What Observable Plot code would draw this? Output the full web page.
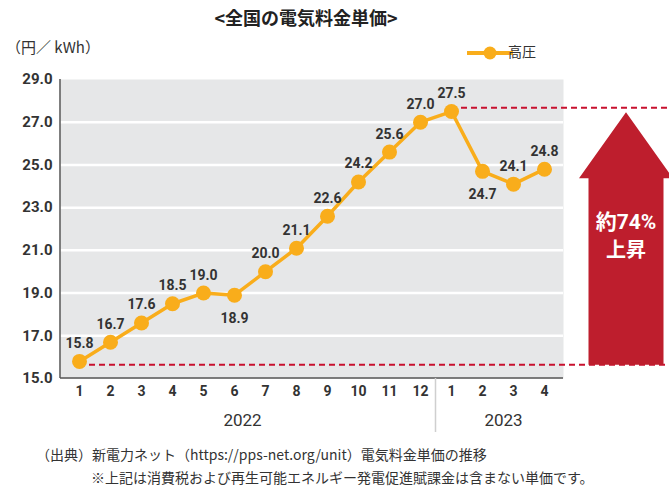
<!DOCTYPE html>
<html>
<head>
<meta charset="utf-8">
<script src="https://cdn.jsdelivr.net/npm/d3@7"></script>
<script src="https://cdn.jsdelivr.net/npm/@observablehq/plot@0.6"></script>
<style>
  html, body { margin: 0; padding: 0; background: #fff; }
  #wrap { position: relative; width: 669px; height: 489px; overflow: hidden;
          font-family: Roboto, "Noto Sans CJK JP", sans-serif; color: #333; }
  #title { position: absolute; left: 0; top: 4px; width: 612px; text-align: center;
           font-size: 18px; font-weight: bold; line-height: 26px; color: #222;
           font-family: "Noto Sans CJK JP", sans-serif; }
  #unit { position: absolute; left: 6px; top: 36px; font-size: 15px; line-height: 22px;
          font-family: "Noto Sans CJK JP", sans-serif; color: #333; }
  #chart { position: absolute; left: 0; top: 0; }
  .cap { position: absolute; font-size: 14px; line-height: 20px; color: #333;
         font-family: "Noto Sans CJK JP", sans-serif; white-space: nowrap; }
</style>
</head>
<body>
<div id="wrap">
  <div id="chart"></div>
  <div id="title"></div>
  <div id="unit"></div>
  <div class="cap" id="cap1" style="left:36px; top:444px;"></div>
  <div class="cap" id="cap2" style="left:91px; top:467px;"></div>
</div>
<script>
// ---- data ----
const months = ["1","2","3","4","5","6","7","8","9","10","11","12","1","2","3","4"];
const years  = ["2022","2022","2022","2022","2022","2022","2022","2022","2022","2022","2022","2022","2023","2023","2023","2023"];
const values = [15.8,16.7,17.6,18.5,19.0,18.9,20.0,21.1,22.6,24.2,25.6,27.0,27.5,24.7,24.1,24.8];
const labelsBelow = ["2022-6","2023-2"];
const yTicks = [15,17,19,21,23,25,27,29];
const gridValues = [17,19,21,23,25,27];
const baseLevel = 15.62;   // dashed line at start level
const peakLevel = 27.65;   // dashed line at peak level
const yearLabelA = {key: "2022-6", text: "2022"};
const yearLabelB = {key: "2023-2", text: "2023"};
const seriesName = "高圧";
const titleText = "<全国の電気料金単価>";
const unitText = "（円／ kWh）";
const arrowText = ["約74%", "上昇"];
const caption1 = "（出典）新電力ネット（https://pps-net.org/unit）電気料金単価の推移";
const caption2 = "※上記は消費税および再生可能エネルギー発電促進賦課金は含まない単価です。";

const keys = months.map((m, i) => years[i] + "-" + m);
const data = keys.map((k, i) => ({key: k, month: months[i], value: values[i]}));
const monthOf = Object.fromEntries(keys.map((k, i) => [k, months[i]]));

const orange = "#F9AD1B";
const red = "#BE1E2D";
const fontNum = "Roboto, 'Noto Sans CJK JP', sans-serif";

document.getElementById("title").textContent = titleText;
document.getElementById("unit").textContent = unitText;
document.getElementById("cap1").textContent = caption1;
document.getElementById("cap2").textContent = caption2;

const plot = Plot.plot({
  width: 669,
  height: 440,
  marginLeft: 60,
  marginRight: 106,
  marginTop: 79,
  marginBottom: 62,
  style: {fontFamily: fontNum, background: "transparent", color: "#333"},
  x: {type: "point", domain: keys, padding: 0.5, align: 0.5},
  y: {domain: [15, 29]},
  marks: [
    Plot.frame({fill: "#E6E7E8", stroke: "none"}),
    Plot.ruleY(gridValues, {stroke: "white", strokeWidth: 2.5}),
    Plot.axisY({ticks: yTicks, tickSize: 0, tickPadding: 8, tickFormat: d3.format(".1f"),
                label: null, fontSize: 15, fontWeight: "bold", fill: "#333"}),
    Plot.axisX({tickSize: 0, tickPadding: 8, tickFormat: k => monthOf[k], label: null,
                fontSize: 14, fontWeight: "bold", fill: "#333"}),
    Plot.line(data, {x: "key", y: "value", stroke: orange, strokeWidth: 3.5}),
    Plot.dot(data, {x: "key", y: "value", r: 7.5, fill: orange}),
    Plot.text(data.filter(d => !labelsBelow.includes(d.key)),
      {x: "key", y: "value", text: d => d3.format(".1f")(d.value), dy: -18,
       fontSize: 14, fontWeight: "bold", fill: "#333"}),
    Plot.text(data.filter(d => labelsBelow.includes(d.key)),
      {x: "key", y: "value", text: d => d3.format(".1f")(d.value), dy: 23,
       fontSize: 14, fontWeight: "bold", fill: "#333"}),
    Plot.text([yearLabelA], {x: "key", y: () => 15, text: "text", dx: 8, dy: 42,
       fontSize: 17, fill: "#333"}),
    Plot.text([yearLabelB], {x: "key", y: () => 15, text: "text", dx: 21, dy: 42,
       fontSize: 17, fill: "#333"})
  ]
});

document.getElementById("chart").appendChild(plot);
const svg = d3.select(plot);
const sx = plot.scale("x"), sy = plot.scale("y");
const x0 = sx.range[0], x1 = sx.range[1];
const yb = sy.range[0], yt = sy.range[1];
const W = 669;

// axis lines (left & bottom)
const axisG = svg.insert("g", "g[aria-label=line]");
axisG.append("line").attr("x1", x0).attr("x2", x0).attr("y1", yt).attr("y2", yb)
  .attr("stroke", "#555").attr("stroke-width", 1.5);
axisG.append("line").attr("x1", x0).attr("x2", x1).attr("y1", yb).attr("y2", yb)
  .attr("stroke", "#555").attr("stroke-width", 1.5);
// year separator
const sepX = (sx.apply("2022-12") + sx.apply("2023-1")) / 2;
axisG.append("line").attr("x1", sepX).attr("x2", sepX).attr("y1", yb).attr("y2", yb + 54)
  .attr("stroke", "#cfcfcf").attr("stroke-width", 1.5);
// dashed reference lines
axisG.append("line").attr("x1", sx.apply("2022-1")).attr("x2", W)
  .attr("y1", sy.apply(baseLevel)).attr("y2", sy.apply(baseLevel))
  .attr("stroke", "#C8102E").attr("stroke-width", 2).attr("stroke-dasharray", "6,4");
axisG.append("line").attr("x1", sx.apply("2023-1")).attr("x2", W)
  .attr("y1", sy.apply(peakLevel)).attr("y2", sy.apply(peakLevel))
  .attr("stroke", "#C8102E").attr("stroke-width", 2).attr("stroke-dasharray", "6,4");

// arrow
const cx = x1 + 63;
const aTop = sy.apply(peakLevel) + 4.5;
const aBot = sy.apply(baseLevel);
const headBase = aTop + 66;
const hw = 47, sw = 37.5;
svg.append("path")
  .attr("d", `M${cx},${aTop} L${cx + hw},${headBase} L${cx + sw},${headBase} L${cx + sw},${aBot} L${cx - sw},${aBot} L${cx - sw},${headBase} L${cx - hw},${headBase} Z`)
  .attr("fill", red);
const midY = (headBase + aBot) / 2;
svg.append("text").attr("x", cx).attr("y", midY - 48).attr("text-anchor", "middle")
  .attr("dominant-baseline", "middle").attr("fill", "white").attr("font-size", 21)
  .attr("font-weight", "bold").attr("font-family", fontNum).text(arrowText[0]);
svg.append("text").attr("x", cx).attr("y", midY - 20).attr("text-anchor", "middle")
  .attr("dominant-baseline", "middle").attr("fill", "white").attr("font-size", 20)
  .attr("font-weight", "bold").attr("font-family", "'Noto Sans CJK JP', sans-serif").text(arrowText[1]);

// legend
const lg = svg.append("g");
lg.append("line").attr("x1", 467).attr("x2", 513).attr("y1", 53).attr("y2", 53)
  .attr("stroke", orange).attr("stroke-width", 4);
lg.append("circle").attr("cx", 490).attr("cy", 53).attr("r", 6.5).attr("fill", orange);
lg.append("text").attr("x", 522).attr("y", 53).attr("dominant-baseline", "middle")
  .attr("font-size", 14).attr("fill", "#333")
  .attr("font-family", "'Noto Sans CJK JP', sans-serif").text(seriesName);
</script>
</body>
</html>
